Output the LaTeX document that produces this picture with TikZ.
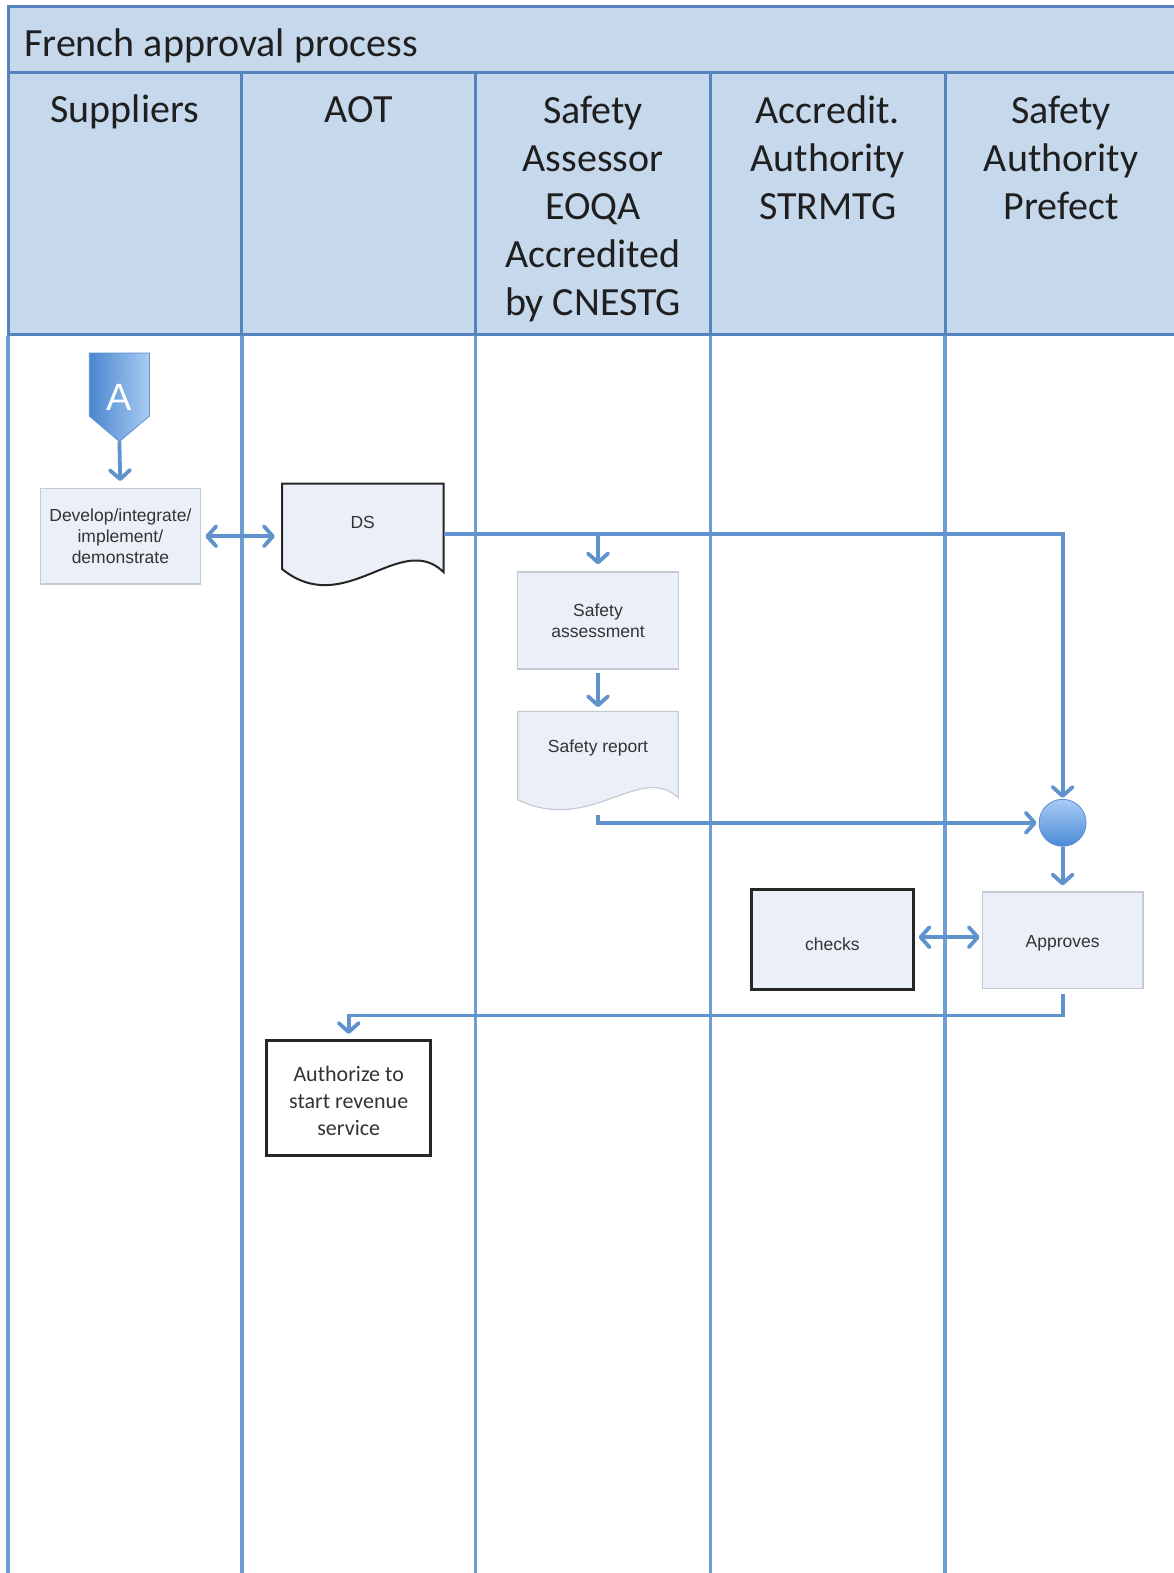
\documentclass[tikz,border=0pt]{standalone}
\usepackage{fontspec}
\setmainfont{Carlito}
\newfontfamily\arialf{Liberation Sans}
\usetikzlibrary{arrows.meta,calc}
\definecolor{hdrfill}{HTML}{C6D8EC}
\definecolor{hdrline}{HTML}{5482BC}
\definecolor{lanecol}{HTML}{6E9DD3}
\definecolor{conncol}{HTML}{6093CE}
\definecolor{boxfill}{HTML}{EBF0F8}
\definecolor{boxline}{HTML}{C4CBD5}
\definecolor{txtgray}{HTML}{333333}
\definecolor{markdark}{HTML}{4A87CF}
\definecolor{marklight}{HTML}{A9CCF3}
\definecolor{markline}{HTML}{5C8FD0}
\definecolor{circtop}{HTML}{A8CCF5}
\definecolor{circbot}{HTML}{4B8AD6}
\begin{document}
\begin{tikzpicture}[x=1pt,y=-1pt,
  hdrtext/.style={font=\fontsize{40}{48}\selectfont, align=center, inner sep=0pt, anchor=base, text=black!88},
  hdrbar/.style={fill=hdrfill, draw=hdrline, line width=3pt},
  hdrsep/.style={draw=hdrline, line width=3pt},
  laneline/.style={draw=lanecol, line width=3.5pt},
  conn/.style={draw=conncol, line width=3.8pt},
  tip/.style={-{Straight Barb[round,length=9pt,width=20pt]}},
  dtip/.style={{Straight Barb[round,length=9pt,width=20pt]}-{Straight Barb[round,length=9pt,width=20pt]}},
  smallbox/.style={rectangle, fill=boxfill, draw=boxline, line width=1.2pt, align=center, inner sep=2pt,
    font=\arialf\fontsize{17.5}{21}\selectfont, text=txtgray},
  blackbox/.style={rectangle, draw=black!85, line width=3pt, align=center, inner sep=2pt},
  doctext/.style={rectangle, inner sep=0pt, font=\arialf\fontsize{17.5}{21}\selectfont, text=txtgray}
]
\clip (0,0) rectangle (1174,1573);
\fill[white] (0,0) rectangle (1174,1573);

% header
\draw[hdrbar] (8,7) rectangle (1195,72.2);
\draw[hdrbar] (8,72.2) rectangle (1195,334);
\foreach \x in {241.8,475.6,710.4,945.2} \draw[hdrsep] (\x,72.2) -- (\x,334);
\foreach \x in {8,241.8,475.6,710.4,945.2} \draw[laneline] (\x,335.5) -- (\x,1590);

\node[font=\fontsize{40}{48}\selectfont, anchor=base west, inner sep=0pt, text=black!88] (title) at (24,57) {French approval process};
% base anchor of a multi-line node is the baseline of its last line
\node[hdrtext] (h1) at (124.9,123) {Suppliers};
\node[hdrtext] (h2) at (358.7,123) {AOT};
\node[hdrtext] (h3) at (593,315) {Safety\\Assessor\\EOQA\\Accredited\\by CNESTG};
\node[hdrtext] (h4) at (827.8,219) {Accredit.\\Authority\\STRMTG};
\node[hdrtext] (h5) at (1061,219) {Safety\\Authority\\Prefect};

% start marker A
\path[left color=markdark, right color=marklight, draw=markline, line width=0.8pt]
  (89.3,353) -- (149.5,353) -- (149.5,416) -- (119.4,441.5) -- (89.3,416) -- cycle;
\node[font=\arialf\fontsize{38}{38}\selectfont, text=white, inner sep=0pt] (start) at (119.4,397) {A};
\coordinate (Atip) at (119.4,441.5);

% boxes
\node[smallbox, minimum width=160.6pt, minimum height=95.3pt] (dev) at (120.4,536.3)
  {Develop/integrate/\\implement/\\demonstrate};

% DS document
\path[fill=boxfill, draw=black!85, line width=2pt]
  (282,483.6) -- (443.5,483.6) -- (443.5,572) .. controls (400,530) and (345,620) .. (282,569) -- cycle;
\node[doctext, minimum width=161.5pt, minimum height=78.4pt] (ds) at (362.75,522.8) {DS};

\node[smallbox, minimum width=160.5pt, minimum height=97pt] (sa) at (598,620.5) {Safety\\assessment};

% Safety report document
\path[fill=boxfill, draw=boxline, line width=1.2pt]
  (517.8,711.4) -- (678.3,711.4) -- (678.3,797.7) .. controls (640,762) and (590,835) .. (517.8,799.7) -- cycle;
\node[doctext, minimum width=160.5pt, minimum height=72.2pt] (sr) at (598,747.5) {Safety report};

% merge circle
\node[circle, minimum size=47pt, inner sep=0pt, top color=circtop, bottom color=circbot, draw=markline, line width=0.8pt] (merge) at (1062.6,822.8) {};

\node[blackbox, fill=boxfill, minimum width=161.6pt, minimum height=100.4pt, text height=23pt, text depth=0pt,
  font=\arialf\fontsize{17.5}{21}\selectfont, text=txtgray] (chk) at (832.3,939.2) {checks};
\node[smallbox, minimum width=160.6pt, minimum height=96.3pt, text height=19pt] (app) at (1062.6,940.2) {Approves};

\node[blackbox, fill=white, minimum width=163.5pt, minimum height=115.5pt,
  font=\fontsize{22}{27}\selectfont, text=txtgray] (auth) at (348.7,1098.2) {\rule{0pt}{20pt}Authorize to\\start revenue\\service};

% connectors
\draw[conn, tip, shorten >=7pt] (Atip) -- (dev.north);
\draw[conn, dtip, shorten <=4pt, shorten >=7pt] (dev.east) -- (dev.east -| ds.west);
\coordinate (dsout) at (ds.east |- 0,533.8);
\draw[conn, tip, shorten >=1pt] (dsout) -| (merge.north);
\draw[conn, tip, shorten >=7pt] (sa.north |- dsout) -- (sa.north);
\draw[conn, tip, shorten <=3pt, shorten >=4pt] (sa.south) -- (sr.north);
\coordinate (srout) at (sr.south |- 0,814.8);
\draw[conn, tip, shorten >=2pt] (srout) |- (merge.west);
\draw[conn, tip, shorten >=6pt] (merge.south) -- (app.north);
\draw[conn, dtip, shorten <=4pt, shorten >=2pt] (chk.east |- 0,937.2) -- (app.west |- 0,937.2);
\coordinate (bend) at (0,1015.4);
\draw[conn, tip, shorten <=5pt, shorten >=5pt] (app.south) -- (app.south |- bend) -| (auth.north);
\end{tikzpicture}
\end{document}
